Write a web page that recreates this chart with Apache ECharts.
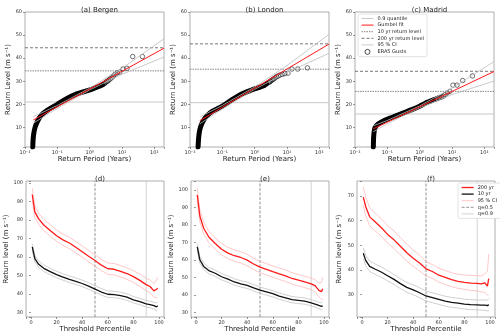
<!DOCTYPE html>
<html>
<head>
<meta charset="utf-8">
<script src="https://cdn.jsdelivr.net/npm/echarts@6/dist/echarts.min.js"></script>
<style>
  html, body { margin: 0; padding: 0; background: #fff; }
  #chart { width: 500px; height: 335px; }
</style>
</head>
<body>
<div id="chart"></div>
<script>
// ---------- top row: return level vs return period ----------
var siteTitles = ['(a) Bergen', '(b) London', '(c) Madrid'];
var periodSpan = [0.01, 200];
var q90Level = [21.0, 20.7, 15.8];
var rl10Level = [34.5, 35.2, 25.6];
var rl200Level = [44.5, 46.2, 34.3];

// gumbel fit end points (years, m/s)
var fitT = [[0.018, 200], [0.02, 200], [0.037, 200]];
var fitVal = [[13.2, 44.3], [12.9, 46.1], [9.4, 34.2]];

// 95% CI
var ciT = [[0.018, 0.1, 1, 10, 200], [0.02, 0.1, 1, 10, 200], [0.037, 0.1, 1, 10, 200]];
var ciUp = [[14.6, 19.5, 27.0, 35.6, 48.4], [14.5, 19.5, 27.5, 36.8, 50.3], [10.7, 13.0, 19.3, 27.0, 38.5]];
var ciLo = [[11.8, 18.2, 26.2, 33.0, 40.5], [11.5, 18.0, 26.5, 33.8, 42.1], [8.1, 11.6, 18.5, 24.2, 30.1]];

// ERA5 gusts, dense part (drawn as thick band)
var denseT = [
  [0.0174, 0.0177, 0.0185, 0.0205, 0.025, 0.033, 0.05, 0.1, 0.2, 0.4, 0.8, 1.3, 2.0, 2.5],
  [0.0178, 0.0182, 0.019, 0.021, 0.025, 0.033, 0.05, 0.1, 0.2, 0.4, 0.8, 1.3, 2.0, 2.4],
  [0.037, 0.0375, 0.039, 0.042, 0.052, 0.08, 0.15, 0.3, 0.6, 1.0, 1.5, 2.0, 2.7]
];
var denseVal = [
  [1.5, 4, 7, 10, 13, 15.5, 17.5, 20, 22.5, 24.5, 25.8, 26.8, 27.8, 28.5],
  [1.5, 4, 7, 10, 12.5, 15, 17, 19.2, 22, 24.5, 26.2, 27.2, 28.2, 29],
  [1.5, 5, 8, 10, 11.5, 13, 14.5, 16.2, 17.8, 19.2, 20.5, 21.2, 22]
];
// ERA5 gusts, sparse upper tail (individual circles)
var tailT = [
  [43, 21.5, 14.3, 10.75, 8.6, 7.2, 6.1, 5.4, 4.8, 4.3, 3.9, 3.6, 3.3, 3.1, 2.9, 2.7],
  [43, 21.5, 14.3, 10.75, 8.6, 7.2, 6.1, 5.4, 4.8, 4.3, 3.9, 3.6, 3.3, 3.1, 2.9, 2.7],
  [43, 21.5, 14.3, 10.75, 8.6, 7.2, 6.1, 5.4, 4.8, 4.3, 3.9, 3.6, 3.3, 3.1]
];
var tailVal = [
  [40.7, 40.7, 35.6, 35.3, 34, 33.7, 33, 32.2, 31.5, 31, 30.5, 30, 29.8, 29.4, 29, 28.8],
  [35.8, 35.3, 35.3, 33.5, 33.3, 33, 32.7, 32.3, 32, 31.5, 31, 30.7, 30.3, 30, 29.7, 29.4],
  [32.3, 30.3, 28.3, 28.3, 25.6, 25, 24.2, 23.5, 23.2, 23, 22.8, 22.6, 22.4, 22.2]
];

// ---------- bottom row: return level vs threshold percentile ----------
var bottomTitles = ['(d)', '(e)', '(f)'];
var pct = [1, 3, 6, 10, 15, 20, 25, 30, 35, 40, 45, 50, 55, 60, 65, 70, 75, 80, 85, 90, 93, 96, 98, 99];
var rl200 = [
  [93.7, 84.3, 80.5, 77.2, 74.3, 71.4, 69.2, 67.5, 65.2, 62.8, 60.3, 58, 55.5, 53.6, 53.3, 52.2, 51, 49.3, 47.3, 45, 44, 41.6, 42.5, 43],
  [97, 85, 78, 73, 69.3, 66, 63.8, 62.3, 61.3, 59.8, 57.6, 55.8, 54.5, 53.2, 52, 50.8, 49.3, 48.3, 47.3, 46.2, 45.2, 42.5, 41.8, 43.5],
  [69.5, 65.5, 61.5, 59.6, 57.2, 54.4, 52.2, 49.6, 47, 44.8, 42.8, 40.5, 39.4, 37.9, 37, 36.1, 35.4, 35, 34.7, 34.6, 34.4, 34.8, 33.5, 36.5]
];
var rl200Hi = [
  [97, 87.5, 83.5, 80.3, 77.4, 74.5, 72.3, 70.6, 68.3, 65.9, 63.4, 61.1, 58.6, 56.7, 56.4, 55.3, 54.2, 52.5, 50.6, 48.4, 47.6, 45.5, 47.5, 49],
  [101, 88.5, 81.3, 76.3, 72.6, 69.3, 67.1, 65.6, 64.6, 63.1, 60.9, 59.1, 57.8, 56.5, 55.3, 54.1, 52.6, 51.6, 50.6, 49.5, 48.7, 46.5, 47, 50],
  [73.5, 69.3, 65.2, 63.2, 60.8, 58, 55.8, 53.1, 50.5, 48.1, 46, 43.4, 42.2, 40.7, 39.8, 38.9, 38.3, 38, 37.8, 37.7, 37.6, 38.5, 39.5, 46.5]
];
var rl200Lo = [
  [90.5, 81.2, 77.5, 74.2, 71.3, 68.4, 66.2, 64.5, 62.2, 59.8, 57.3, 55, 52.5, 50.6, 50.2, 49.1, 47.9, 46.2, 44.1, 41.7, 40.6, 38.2, 38, 37.8],
  [93.5, 81.7, 74.8, 69.8, 66.1, 62.8, 60.6, 59.1, 58.1, 56.6, 54.4, 52.6, 51.3, 50, 48.8, 47.6, 46.1, 45.1, 44.1, 43, 41.8, 38.8, 37.5, 37.2],
  [66, 61.8, 57.9, 56, 53.7, 50.9, 48.7, 46.1, 43.6, 41.5, 39.6, 37.6, 36.6, 35.1, 34.2, 33.3, 32.6, 32.2, 31.8, 31.5, 31.2, 31, 29.8, 29.5]
];
var rl10 = [
  [65.4, 59.1, 56, 53.8, 52, 50.4, 49.1, 47.8, 46.8, 45.6, 44.2, 42.6, 41, 39.8, 39.6, 39.1, 38.2, 36.8, 35.8, 34.6, 34.2, 33.6, 33, 33.5],
  [67.3, 60, 56.2, 53.8, 52.3, 50.3, 48.9, 47.3, 46.2, 45.4, 44, 42.6, 41.6, 40.6, 39.2, 38.2, 37.2, 36.8, 36.4, 35.4, 34.7, 33.9, 33.4, 33.6],
  [46.8, 43.8, 41.5, 40.4, 39.2, 37.7, 36.2, 34.5, 33, 32, 30.8, 29.5, 28.8, 28.1, 27.4, 26.9, 26.6, 26.2, 26, 25.9, 25.8, 25.8, 25.6, 26]
];
var rl10Hi = [
  [67.1, 60.8, 57.8, 55.6, 53.8, 52.2, 50.9, 49.6, 48.6, 47.4, 46, 44.4, 42.8, 41.6, 41.4, 40.9, 40, 38.6, 37.6, 36.4, 36, 35.5, 35, 35.8],
  [69.3, 62, 58.1, 55.6, 54.1, 52.1, 50.7, 49.1, 48, 47.2, 45.8, 44.4, 43.4, 42.4, 41, 40, 39, 38.6, 38.2, 37.2, 36.5, 35.8, 35.4, 36],
  [49, 45.9, 43.6, 42.5, 41.3, 39.8, 38.2, 36.5, 35, 34, 32.8, 31.5, 30.8, 30.1, 29.4, 28.9, 28.6, 28.2, 28, 27.9, 27.8, 27.9, 27.8, 28.4]
];
var rl10Lo = [
  [63.7, 57.4, 54.3, 52.1, 50.3, 48.7, 47.4, 46.1, 45.1, 43.9, 42.5, 40.9, 39.3, 38.1, 37.9, 37.4, 36.5, 35.1, 34.1, 32.9, 32.5, 31.8, 31.2, 31.4],
  [65.4, 58.1, 54.4, 52, 50.5, 48.5, 47.1, 45.5, 44.4, 43.6, 42.2, 40.8, 39.8, 38.8, 37.4, 36.4, 35.4, 35, 34.6, 33.6, 32.9, 32, 31.5, 31.4],
  [44.6, 41.7, 39.4, 38.3, 37.1, 35.6, 34.2, 32.5, 31, 30, 28.8, 27.5, 26.8, 26.1, 25.4, 24.9, 24.6, 24.2, 24, 23.9, 23.8, 23.7, 23.5, 23.6]
];
var bottomYMin = [27.5, 27.3, 21];
var bottomYMax = [101, 105, 76];
var qLines = [50, 90];

var FONT = 'DejaVu Sans';
var RED = '#ff1a1a';
var sup = {'-2': '\u207b\u00b2', '-1': '\u207b\u00b9', '0': '\u2070', '1': '\u00b9', '2': '\u00b2'};

function pairs(xs, ys) {
  return xs.map(function (x, i) { return [x, ys[i]]; });
}

var topLeft = [25, 190, 355];
var botLeft = [26, 191, 357];

var grid = [], xAxis = [], yAxis = [], series = [], title = [];
var tickLabel = { fontSize: 5, color: '#333', fontFamily: FONT, margin: 3 };
var tick = { show: true, length: 2, lineStyle: { color: '#555', width: 0.6 } };

function refLine(name, idx, xs, ys, style) {
  return { name: name, type: 'line', xAxisIndex: idx, yAxisIndex: idx, symbol: 'none', silent: true,
    data: pairs(xs, ys), lineStyle: style, itemStyle: { color: style.color } };
}

for (var i = 0; i < 3; i++) {
  grid.push({ left: topLeft[i], top: 12, width: 139, height: 135, show: true, borderColor: '#999', borderWidth: 0.8 });
  title.push({ text: siteTitles[i], left: topLeft[i] + 69.5, top: 2, textAlign: 'center',
    textStyle: { fontSize: 7, fontWeight: 'normal', color: '#222', fontFamily: FONT } });
  xAxis.push({
    type: 'log', logBase: 10, gridIndex: i, min: periodSpan[0], max: periodSpan[1],
    name: 'Return Period (Years)', nameLocation: 'middle', nameGap: 9,
    nameTextStyle: { fontSize: 7, color: '#222', fontFamily: FONT },
    axisLine: { show: false }, axisTick: tick, splitLine: { show: false },
    axisLabel: Object.assign({}, tickLabel, {
      formatter: function (v) {
        var e = Math.log10(v);
        if (Math.abs(e - Math.round(e)) > 1e-6) return '';
        return '10' + sup[String(Math.round(e))];
      }
    })
  });
  yAxis.push({
    type: 'value', gridIndex: i, min: 1.5, max: 60, minInterval: 10, maxInterval: 10,
    name: 'Return Level (m s\u207b\u00b9)', nameLocation: 'middle', nameGap: 10,
    nameTextStyle: { fontSize: 7, color: '#222', fontFamily: FONT },
    axisLine: { show: false }, axisTick: tick, splitLine: { show: false },
    axisLabel: Object.assign({}, tickLabel, {
      formatter: function (v) { return v % 10 === 0 ? String(v) : ''; }
    })
  });

  series.push(refLine('0.9 quantile', i, periodSpan, [q90Level[i], q90Level[i]], { color: '#c8c8c8', width: 1 }));
  series.push(refLine('10 yr return level', i, periodSpan, [rl10Level[i], rl10Level[i]], { color: '#666', width: 0.8, type: [1.5, 1] }));
  series.push(refLine('200 yr return level', i, periodSpan, [rl200Level[i], rl200Level[i]], { color: '#555', width: 0.8, type: [3, 2] }));
  series.push({
    name: 'ERA5 dense', type: 'line', xAxisIndex: i, yAxisIndex: i, symbol: 'none', smooth: 0.3,
    data: pairs(denseT[i], denseVal[i]),
    lineStyle: { color: '#000', width: 5, cap: 'round', join: 'round' }
  });
  series.push({
    name: 'ERA5 Gusts', type: 'scatter', xAxisIndex: i, yAxisIndex: i, symbol: 'circle', symbolSize: 4.5,
    data: pairs(tailT[i], tailVal[i]),
    itemStyle: { color: 'rgba(255,255,255,0)', borderColor: '#000', borderWidth: 0.7 }
  });
  series.push({
    name: '95 % CI', type: 'line', xAxisIndex: i, yAxisIndex: i, symbol: 'none',
    data: pairs(ciT[i], ciUp[i]), lineStyle: { color: '#bdbdbd', width: 0.8 }, itemStyle: { color: '#bdbdbd' }
  });
  series.push({
    name: '95 % CI', type: 'line', xAxisIndex: i, yAxisIndex: i, symbol: 'none',
    data: pairs(ciT[i], ciLo[i]), lineStyle: { color: '#bdbdbd', width: 0.8 }, itemStyle: { color: '#bdbdbd' }
  });
  series.push({
    name: 'Gumbel fit', type: 'line', xAxisIndex: i, yAxisIndex: i, symbol: 'none',
    data: pairs(fitT[i], fitVal[i]), lineStyle: { color: RED, width: 1 }, itemStyle: { color: RED }
  });
}

for (var j = 0; j < 3; j++) {
  var g = j + 3;
  var ySpan = [bottomYMin[j], bottomYMax[j]];
  grid.push({ left: botLeft[j], top: 181, width: 138, height: 136, show: true, borderColor: '#999', borderWidth: 0.8 });
  title.push({ text: bottomTitles[j], left: botLeft[j] + 69, top: 171, textAlign: 'center',
    textStyle: { fontSize: 7, fontWeight: 'normal', color: '#222', fontFamily: FONT } });
  xAxis.push({
    type: 'value', gridIndex: g, min: -3.9, max: 103.9, minInterval: 20, maxInterval: 20,
    name: 'Threshold Percentile', nameLocation: 'middle', nameGap: 8,
    nameTextStyle: { fontSize: 7, color: '#222', fontFamily: FONT },
    axisLine: { show: false }, axisTick: tick, splitLine: { show: false },
    axisLabel: Object.assign({}, tickLabel, {
      formatter: function (v) { return v % 20 === 0 ? String(v) : ''; }
    })
  });
  yAxis.push({
    type: 'value', gridIndex: g, min: ySpan[0], max: ySpan[1], minInterval: 10, maxInterval: 10,
    name: 'Return level (m s\u207b\u00b9)', nameLocation: 'middle', nameGap: 14,
    nameTextStyle: { fontSize: 7, color: '#222', fontFamily: FONT },
    axisLine: { show: false }, axisTick: tick, splitLine: { show: false },
    axisLabel: Object.assign({}, tickLabel, {
      formatter: function (v) { return v % 10 === 0 ? String(v) : ''; }
    })
  });

  series.push(refLine('q=0.5', g, [qLines[0], qLines[0]], ySpan, { color: '#777', width: 0.8, type: [3, 1.5] }));
  series.push(refLine('q=0.9', g, [qLines[1], qLines[1]], ySpan, { color: '#c8c8c8', width: 0.8 }));
  [rl10Hi[j], rl10Lo[j]].forEach(function (arr) {
    series.push({ name: '10 yr CI', type: 'line', xAxisIndex: g, yAxisIndex: g, symbol: 'none',
      data: pairs(pct, arr), lineStyle: { color: '#bbbbbb', width: 0.7 } });
  });
  [rl200Hi[j], rl200Lo[j]].forEach(function (arr) {
    series.push({ name: '95 % CI ', type: 'line', xAxisIndex: g, yAxisIndex: g, symbol: 'none',
      data: pairs(pct, arr), lineStyle: { color: '#ffb0b0', width: 0.7 }, itemStyle: { color: '#ffb0b0' } });
  });
  series.push({ name: '10 yr', type: 'line', xAxisIndex: g, yAxisIndex: g, symbol: 'none',
    data: pairs(pct, rl10[j]), lineStyle: { color: '#111', width: 1.3 }, itemStyle: { color: '#111' } });
  series.push({ name: '200 yr', type: 'line', xAxisIndex: g, yAxisIndex: g, symbol: 'none',
    data: pairs(pct, rl200[j]), lineStyle: { color: RED, width: 1.3 }, itemStyle: { color: RED } });
}

var legendBase = {
  orient: 'vertical', itemWidth: 12, itemHeight: 5, itemGap: 1.6,
  backgroundColor: '#fff', borderColor: '#d0d0d0', borderWidth: 0.6, borderRadius: 2,
  padding: [2, 3, 2, 3], selectedMode: false,
  itemStyle: { opacity: 0 },
  lineStyle: { width: 'inherit' },
  textStyle: { fontSize: 5, color: '#222', fontFamily: FONT, padding: [0, 0, 0, -1] }
};

var chart = echarts.init(document.getElementById('chart'), null, { renderer: 'canvas' });
chart.setOption({
  animation: false,
  backgroundColor: '#fff',
  title: title,
  legend: [
    Object.assign({}, legendBase, {
      left: 358, top: 14,
      data: ['0.9 quantile', 'Gumbel fit', '10 yr return level', '200 yr return level', '95 % CI',
        { name: 'ERA5 Gusts', icon: 'circle',
          itemStyle: { opacity: 1, color: 'rgba(255,255,255,0)', borderColor: '#000', borderWidth: 0.7 } }]
    }),
    Object.assign({}, legendBase, {
      left: 458, top: 183,
      data: ['200 yr', '10 yr', '95 % CI ', 'q=0.5', 'q=0.9']
    })
  ],
  grid: grid,
  xAxis: xAxis,
  yAxis: yAxis,
  series: series
});
</script>
</body>
</html>
